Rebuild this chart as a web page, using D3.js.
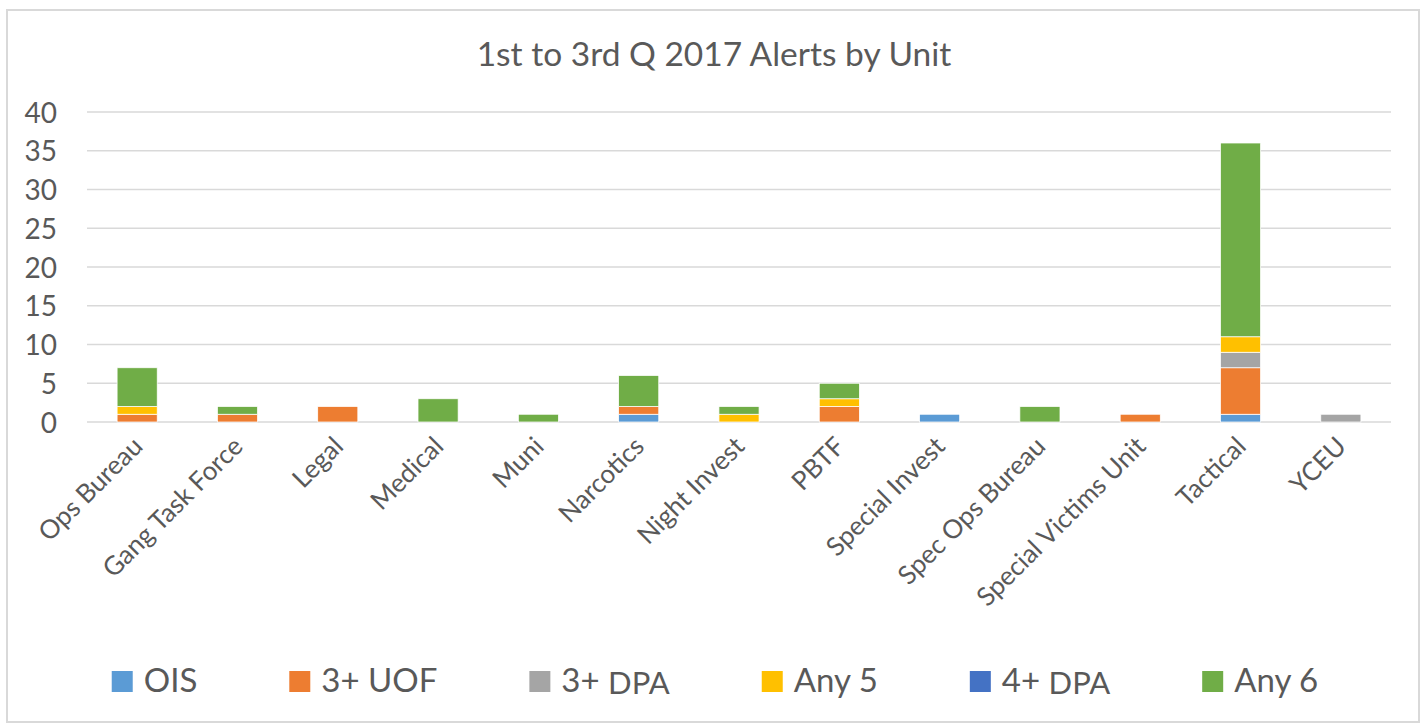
<!DOCTYPE html>
<html>
<head>
<meta charset="utf-8">
<script src="https://cdn.jsdelivr.net/npm/d3@7"></script>
<style>
    body { margin: 0; background: #fff; }
    svg text { font-family: Lato, "Open Sans", sans-serif; fill: #595959; }
</style>
</head>
<body>
<svg id="chart" width="1426" height="725"></svg>
<script>
    // chart data
    let units = ['Ops Bureau', 'Gang Task Force', 'Legal', 'Medical', 'Muni', 'Narcotics',
        'Night Invest', 'PBTF', 'Special Invest', 'Spec Ops Bureau', 'Special Victims Unit',
        'Tactical', 'YCEU'];
    let ois  = [0, 0, 0, 0, 0, 1, 0, 0, 1, 0, 0, 1, 0];
    let uof3 = [1, 1, 2, 0, 0, 1, 0, 2, 0, 0, 1, 6, 0];
    let dpa3 = [0, 0, 0, 0, 0, 0, 0, 0, 0, 0, 0, 2, 1];
    let any5 = [1, 0, 0, 0, 0, 0, 1, 1, 0, 0, 0, 2, 0];
    let dpa4 = [0, 0, 0, 0, 0, 0, 0, 0, 0, 0, 0, 0, 0];
    let any6 = [5, 1, 0, 3, 1, 4, 1, 2, 0, 2, 0, 25, 0];
    let yTicks = [0, 5, 10, 15, 20, 25, 30, 35, 40];

    let seriesKeys = ['ois', 'uof3', 'dpa3', 'any5', 'dpa4', 'any6'];
    let seriesLabels = [['OIS', ''], ['3+ UOF', ''], ['3+ ', 'DPA'], ['Any 5', ''], ['4+ ', 'DPA'], ['Any 6', '']];

    (function () {
        let seriesColor = d3.scaleOrdinal()
            .domain(seriesKeys)
            .range(['#5b9bd5', '#ed7d31', '#a5a5a5', '#ffc000', '#4472c4', '#70ad47']);

        let table = units.map(function (u, i) {
            return { unit: u, ois: ois[i], uof3: uof3[i], dpa3: dpa3[i], any5: any5[i], dpa4: dpa4[i], any6: any6[i] };
        });

        let svg = d3.select('#chart');
        let plotLeft = 87, plotRight = 1391, plotTop = 112, plotBottom = 422;

        // outer frame
        svg.append('rect')
            .attr('x', 7).attr('y', 10)
            .attr('width', 1412).attr('height', 712)
            .style('fill', 'none')
            .style('stroke', '#d9d9d9')
            .style('stroke-width', 2);

        svg.append('text')
            .attr('x', 714).attr('y', 66)
            .attr('text-anchor', 'middle')
            .style('font-size', '33.5px')
            .text('1st to 3rd Q 2017 Alerts by Unit');

        let x = d3.scaleBand().domain(units).range([plotLeft, plotRight]).paddingInner(0.6).paddingOuter(0.3);
        let y = d3.scaleLinear().domain([0, 40]).range([plotBottom, plotTop]);

        // gridlines
        svg.append('g')
            .selectAll('line')
            .data(yTicks)
            .enter()
            .append('line')
            .attr('x1', plotLeft).attr('x2', plotRight)
            .attr('y1', function (d) { return y(d); })
            .attr('y2', function (d) { return y(d); })
            .style('stroke', '#d9d9d9')
            .style('stroke-width', 1.5);

        let yAxis = d3.axisLeft(y).tickValues(yTicks).tickSize(0).tickPadding(30);
        let yG = svg.append('g').attr('transform', 'translate(' + plotLeft + ',0)').call(yAxis);
        yG.select('.domain').remove();
        yG.selectAll('text')
            .style('font-size', '28px')
            .style('font-family', 'Lato, sans-serif')
            .style('fill', '#595959')
            .attr('dy', '0.36em');

        let layers = d3.stack().keys(seriesKeys)(table);

        svg.append('g')
            .selectAll('g')
            .data(layers)
            .enter()
            .append('g')
            .style('fill', function (d) { return seriesColor(d.key); })
            .selectAll('rect')
            .data(function (d) { return d.filter(function (p) { return p[1] > p[0]; }); })
            .enter()
            .append('rect')
            .attr('x', function (d) { return x(d.data.unit); })
            .attr('width', x.bandwidth())
            .attr('y', function (d) { return y(d[1]); })
            .attr('height', function (d) { return y(d[0]) - y(d[1]); })
            .style('stroke', '#ffffff')
            .style('stroke-width', 0.75);

        // category labels
        let xAxis = d3.axisBottom(x).tickSize(0).tickPadding(0);
        let xG = svg.append('g').attr('transform', 'translate(0,' + plotBottom + ')').call(xAxis);
        xG.select('.domain').remove();
        xG.selectAll('text')
            .style('font-size', '26px')
            .style('font-family', 'Lato, sans-serif')
            .style('fill', '#595959')
            .attr('text-anchor', 'end')
            .attr('dy', null)
            .attr('y', 0)
            .attr('transform', 'translate(7,26) rotate(-45)');

        // legend
        let items = svg.append('g').selectAll('g')
            .data(seriesKeys)
            .enter()
            .append('g');
        items.append('rect')
            .attr('width', 21).attr('height', 21)
            .attr('y', -21)
            .style('fill', function (d) { return seriesColor(d); });
        let labels = items.append('text')
            .attr('x', 32)
            .style('font-size', '33px');
        labels.append('tspan').text(function (d, i) { return seriesLabels[i][0]; });
        labels.append('tspan')
            .attr('dy', 2)
            .style('font-size', '31px')
            .text(function (d, i) { return seriesLabels[i][1]; });

        let widths = [];
        labels.each(function () { widths.push(32 + this.getComputedTextLength()); });
        let gap = 92;
        let total = d3.sum(widths) + gap * (widths.length - 1);
        let pos = 715 - total / 2;
        items.attr('transform', function (d, i) {
            let t = 'translate(' + pos + ',692)';
            pos += widths[i] + gap;
            return t;
        });
    })();
</script>
</body>
</html>
